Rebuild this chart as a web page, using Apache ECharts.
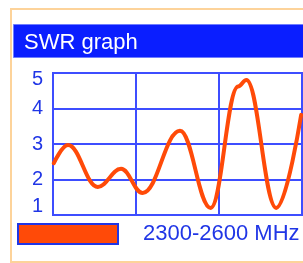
<html>
<head>
<meta charset="utf-8">
<title>SWR graph</title>
<script src="https://cdn.jsdelivr.net/npm/echarts@6/dist/echarts.min.js"></script>
<style>
html, body { margin:0; padding:0; background:#fff; }
#main { width:303px; height:263px; }
</style>
</head>
<body>
<div id="main"></div>
<script type="text/javascript">
  // frequency (MHz) and SWR at the turning points
  var freqs = [2301, 2318, 2354, 2382, 2408, 2453, 2490, 2523, 2533, 2569, 2599];
  var swr = [2.46, 2.97, 1.79, 2.30, 1.62, 3.37, 1.2, 4.62, 4.8, 1.2, 3.82];
  var seriesName = '2300-2600 MHz';
  var titleText = 'SWR graph';

  var blue = '#2036e6';
  var gridBlue = '#3d4dff';
  var lineColor = '#ff4a08';

  var pts = [];
  for (var i = 0; i < freqs.length; i++) {
    pts.push([freqs[i], swr[i]]);
  }

  var chart = echarts.init(document.getElementById('main'));
  var option = {
    backgroundColor: '#fff',
    animation: false,
    graphic: [
      { type: 'rect', z: -10, shape: { x: 11, y: 9, width: 300, height: 253 },
        style: { fill: '#fff', stroke: '#fdd39a', lineWidth: 2 } },
      { type: 'rect', z: -5, shape: { x: 13.5, y: 24.5, width: 295, height: 33 },
        style: { fill: '#0a1eff', stroke: '#6f7dff', lineWidth: 1 } }
    ],
    title: {
      text: titleText,
      left: 19,
      top: 27,
      textStyle: { color: '#fff', fontFamily: 'Liberation Sans', fontSize: 22, fontWeight: 'normal' }
    },
    legend: {
      left: 17,
      top: 223,
      padding: 0,
      icon: 'rect',
      itemWidth: 100,
      itemHeight: 20,
      data: [{ name: seriesName, itemStyle: { color: lineColor, borderColor: blue, borderWidth: 2 } }],
      textStyle: { color: blue, fontFamily: 'Liberation Sans', fontSize: 22, padding: [0, 0, 0, 20] }
    },
    grid: { left: 53, top: 73, right: 1, bottom: 48, show: true, borderColor: gridBlue, borderWidth: 2 },
    xAxis: {
      type: 'value',
      min: 2300, max: 2600, interval: 100,
      axisLine: { show: true, lineStyle: { color: gridBlue, width: 2 } },
      axisTick: { show: false },
      axisLabel: { show: false },
      splitLine: { show: true, lineStyle: { color: gridBlue, width: 2 } }
    },
    yAxis: {
      type: 'value',
      min: 1, max: 5, interval: 1,
      axisLine: { show: true, lineStyle: { color: gridBlue, width: 2 } },
      axisTick: { show: false },
      axisLabel: {
        color: blue, fontFamily: 'Liberation Sans', fontSize: 20, margin: 10,
        formatter: function (v) {
          if (v === 5) return '{top|5}';
          if (v === 1) return '{bot|1}';
          return String(v);
        },
        rich: {
          top: { color: blue, fontFamily: 'Liberation Sans', fontSize: 20, padding: [12, 0, 0, 0] },
          bot: { color: blue, fontFamily: 'Liberation Sans', fontSize: 20, padding: [0, 0, 18, 0] }
        }
      },
      splitLine: { show: true, lineStyle: { color: gridBlue, width: 2 } }
    },
    series: [{
      name: seriesName,
      type: 'line',
      data: pts,
      smooth: 0.4,
      smoothMonotone: 'x',
      showSymbol: false,
      lineStyle: { color: lineColor, width: 4, cap: 'round', join: 'round' },
      itemStyle: { color: lineColor }
    }]
  };
  chart.setOption(option);
</script>
</body>
</html>
